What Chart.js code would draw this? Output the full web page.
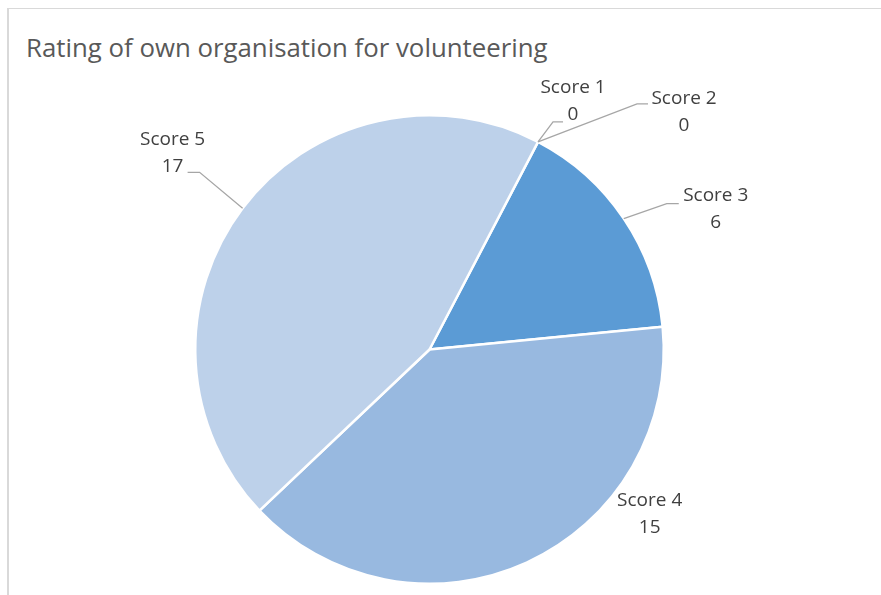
<!DOCTYPE html>
<html>
<head>
<meta charset="utf-8">
<script src="https://cdn.jsdelivr.net/npm/chart.js@4.4.1/dist/chart.umd.min.js"></script>
<style>
  html, body { margin: 0; padding: 0; background: #fff; }
  #wrap { position: relative; width: 881px; height: 595px; overflow: hidden; }
  #frame { position: absolute; left: 7px; top: 8px; width: 900px; height: 700px; border: 1px solid #D9D9D9; border-left-width: 2px; }
  #title { position: absolute; left: 26px; top: 29px; font-family: 'Open Sans', sans-serif; font-size: 25.8px; color: #595959; white-space: nowrap; }
  canvas { position: absolute; left: 0; top: 0; }
</style>
</head>
<body>
<div id="wrap">
  <div id="frame"></div>
  <div id="title">Rating of own organisation for volunteering</div>
  <canvas id="pieChart" width="881" height="595"></canvas>
</div>
<script>
const categories = ['Score 1', 'Score 2', 'Score 3', 'Score 4', 'Score 5'];
const counts = [0, 0, 6, 15, 17];
const sliceColors = ['#4472C4', '#ED7D31', '#5B9BD5', '#98B9E0', '#BDD1EA'];

// where each data label sits, relative to the slice's outer edge midpoint
const labelOffsets = [[35, -41], [146, -30], [92, -10], [123, -49], [-70, -56]];
// leader line elbow/end points relative to the label centre (null = no leader)
const leaders = [
  [[-20, 21], [-10, 21]],
  [[-47, -8], [-36, -8]],
  [[-49, -5], [-37, -5]],
  null,
  [[27, 20], [15, 20]],
];

const dataLabels = {
  id: 'dataLabels',
  afterDatasetsDraw(chart) {
    const ctx = chart.ctx;
    const arcs = chart.getDatasetMeta(0).data;
    ctx.save();
    arcs.forEach((arc, i) => {
      const mid = (arc.startAngle + arc.endAngle) / 2;
      const ax = arc.x + Math.cos(mid) * arc.outerRadius;
      const ay = arc.y + Math.sin(mid) * arc.outerRadius;
      const cx = ax + labelOffsets[i][0];
      const cy = ay + labelOffsets[i][1];

      if (leaders[i]) {
        ctx.strokeStyle = '#A6A6A6';
        ctx.lineWidth = 1.3;
        ctx.beginPath();
        ctx.moveTo(ax, ay);
        ctx.lineTo(cx + leaders[i][0][0], cy + leaders[i][0][1]);
        ctx.lineTo(cx + leaders[i][1][0], cy + leaders[i][1][1]);
        ctx.stroke();
      }

      ctx.fillStyle = '#404040';
      ctx.font = '19px "Open Sans", sans-serif';
      ctx.textAlign = 'center';
      ctx.textBaseline = 'middle';
      ctx.fillText(categories[i], cx, cy - 13);
      ctx.fillText(String(counts[i]), cx, cy + 14);
    });
    ctx.restore();
  }
};

new Chart(document.getElementById('pieChart').getContext('2d'), {
  type: 'pie',
  data: {
    labels: categories,
    datasets: [{
      data: counts,
      backgroundColor: sliceColors,
      borderColor: '#FFFFFF',
      borderWidth: 2.5,
    }],
  },
  options: {
    responsive: false,
    animation: false,
    rotation: 27.6,
    layout: { padding: { left: 194, right: 216, top: 114, bottom: 10 } },
    plugins: {
      legend: { display: false },
      tooltip: { enabled: false },
    },
  },
  plugins: [dataLabels],
});
</script>
</body>
</html>
